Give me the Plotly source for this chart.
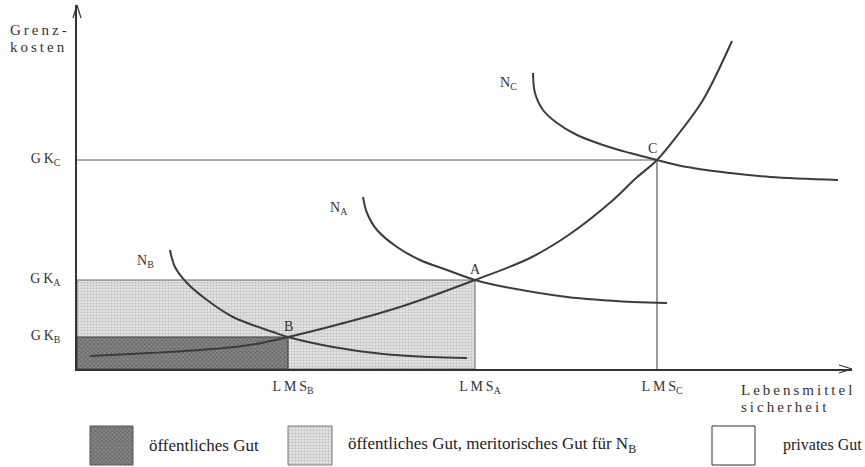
import plotly.graph_objects as go

W, H = 865, 467
FONT = "Liberation Serif"
SP = "\u2009"

# ---------------- data ----------------
point_names = ["B", "A", "C"]
LMS = [21.1, 39.8, 58.0]          # Lebensmittelsicherheit at B, A, C
GK = [3.2, 8.9, 20.9]             # Grenzkosten at B, A, C

gk_x = [1.3, 7.3, 12.3, 17.3, 21.1, 26.3, 32.3, 39.8, 45.3, 49.3, 53.5, 55.8, 58.0, 60.3, 62.6, 65.5]
gk_y = [1.3, 1.6, 1.9, 2.4, 3.2, 4.5, 6.2, 8.9, 11.1, 13.5, 16.8, 19.0, 20.9, 23.7, 26.9, 32.8]

nb_x = [9.3, 9.8, 11.0, 13.0, 15.6, 19.6, 21.1, 25.6, 30.6, 35.3, 39.0]
nb_y = [11.9, 10.2, 8.6, 6.9, 5.2, 3.7, 3.2, 2.2, 1.5, 1.2, 1.1]

na_x = [28.6, 29.0, 30.0, 32.0, 34.3, 37.0, 39.8, 42.3, 49.0, 55.6, 59.0]
na_y = [17.2, 15.6, 13.9, 12.2, 10.9, 9.9, 8.9, 8.3, 7.2, 6.7, 6.6]

nc_x = [45.6, 45.8, 46.6, 48.0, 50.0, 52.6, 55.3, 58.0, 61.0, 65.3, 69.3, 76.1]
nc_y = [29.6, 27.6, 25.9, 24.6, 23.4, 22.4, 21.6, 20.9, 20.2, 19.6, 19.2, 18.9]

curve_labels = ["N<sub>B</sub>", "N<sub>A</sub>", "N<sub>C</sub>"]
y_title = ["Grenz-", "kosten"]
x_title = ["Lebensmittel", "sicherheit"]
legend_labels = ["öffentliches Gut",
                 "öffentliches Gut, meritorisches Gut für N<sub>B</sub>",
                 "privates Gut"]

X_MAX, Y_MAX = 77.5, 36.4


def spaced(s):
    return SP.join(s)


fig = go.Figure()

CURVE = "#3c3c3c"
THIN = "#5a5a5a"
DARK_PAT = dict(shape="x", size=3, solidity=0.5, fgcolor="#3a3a3a", bgcolor="#8e8e8e")
LIGHT_PAT = dict(shape=".", size=3, solidity=0.3, fgcolor="#9a9a9a", bgcolor="#e2e2e2")

# shaded rectangles
iB, iA, iC = 0, 1, 2
fig.add_trace(go.Scatter(
    x=[0, LMS[iA], LMS[iA], 0, 0], y=[0, 0, GK[iA], GK[iA], 0],
    mode="lines", fill="toself", line=dict(color="#6a6a6a", width=1),
    fillcolor="#dcdcdc", fillpattern=LIGHT_PAT,
    hoverinfo="skip", showlegend=False))
fig.add_trace(go.Scatter(
    x=[0, LMS[iB], LMS[iB], 0, 0], y=[0, 0, GK[iB], GK[iB], 0],
    mode="lines", fill="toself", line=dict(color="#444444", width=1.2),
    fillcolor="#8a8a8a", fillpattern=DARK_PAT,
    hoverinfo="skip", showlegend=False))

# GK_C guide lines
fig.add_trace(go.Scatter(x=[0, LMS[iC]], y=[GK[iC], GK[iC]], mode="lines",
                         line=dict(color=THIN, width=1), hoverinfo="skip", showlegend=False))
fig.add_trace(go.Scatter(x=[LMS[iC], LMS[iC]], y=[0, GK[iC]], mode="lines",
                         line=dict(color=THIN, width=1.2), hoverinfo="skip", showlegend=False))

# curves
for cx, cy in [(gk_x, gk_y), (nb_x, nb_y), (na_x, na_y), (nc_x, nc_y)]:
    fig.add_trace(go.Scatter(x=cx, y=cy, mode="lines", line=dict(color=CURVE, width=2, shape="spline", smoothing=1.0),
                             hoverinfo="skip", showlegend=False))

annotations = []
# point labels
shifts = [(0, 11), (0, 11), (-5, 12)]
for name, lx, ly, (dx, dy) in zip(point_names, LMS, GK, shifts):
    annotations.append(dict(x=lx, y=ly, xref="x", yref="y", text=name, showarrow=False,
                            xshift=dx, yshift=dy, font=dict(family=FONT, size=14, color="#333")))
# curve labels
for lab, cx, cy in zip(curve_labels, [nb_x, na_x, nc_x], [nb_y, na_y, nc_y]):
    annotations.append(dict(x=cx[0], y=cy[0], xref="x", yref="y", text=lab, showarrow=False,
                            xshift=-25, yshift=-11, font=dict(family=FONT, size=14, color="#333")))

# axis titles (overlay pixel space)
for line, yy in zip(y_title, [30, 47]):
    annotations.append(dict(x=8, y=yy, xref="x2", yref="y2", xanchor="left", yanchor="middle",
                            text=spaced(line), showarrow=False,
                            font=dict(family=FONT, size=15, color="#333")))
for line, yy in zip(x_title, [390, 407]):
    annotations.append(dict(x=739, y=yy, xref="x2", yref="y2", xanchor="left", yanchor="middle",
                            text=spaced(line), showarrow=False,
                            font=dict(family=FONT, size=15, color="#333")))

# legend (overlay pixel space)
sw = [(90, 133), (288, 332), (712, 755)]
txt_x = [147, 346, 781]
txt_size = [17, 17, 16]
sw_fill = [DARK_PAT, LIGHT_PAT, None]
sw_line = ["#555", "#777", "#333"]
for (x0, x1), fp, lc in zip(sw, sw_fill, sw_line):
    tr = dict(x=[x0, x1, x1, x0, x0], y=[426, 426, 465, 465, 426], xaxis="x2", yaxis="y2",
              mode="lines", fill="toself", line=dict(color=lc, width=1),
              fillcolor="white", hoverinfo="skip", showlegend=False)
    if fp is not None:
        tr["fillpattern"] = fp
    fig.add_trace(go.Scatter(**tr))
for lab, tx, ts in zip(legend_labels, txt_x, txt_size):
    annotations.append(dict(x=tx, y=445, xref="x2", yref="y2", xanchor="left", yanchor="middle",
                            text=lab, showarrow=False, font=dict(family=FONT, size=ts, color="#222")))

# axis arrowheads (overlay pixel space)
fig.add_trace(go.Scatter(x=[73, 77, 81], y=[18, 5, 18], xaxis="x2", yaxis="y2", mode="lines",
                         line=dict(color="#333", width=1.2), hoverinfo="skip", showlegend=False))
fig.add_trace(go.Scatter(x=[839, 852, 839], y=[365, 369, 373], xaxis="x2", yaxis="y2", mode="lines",
                         line=dict(color="#333", width=1.2), hoverinfo="skip", showlegend=False))

tick_font = dict(family=FONT, size=14, color="#333")
fig.update_layout(
    width=W, height=H, autosize=False,
    margin=dict(l=0, r=0, t=0, b=0),
    paper_bgcolor="white", plot_bgcolor="rgba(0,0,0,0)",
    showlegend=False,
    annotations=annotations,
    xaxis=dict(domain=[77 / W, 852 / W], range=[0, X_MAX], showgrid=False, zeroline=False,
               showline=True, linecolor="#333", linewidth=1.6, ticks="",
               tickvals=LMS, ticktext=[spaced("LMS") + "<sub>" + n + "</sub>" for n in point_names],
               tickfont=tick_font, ticklabelstandoff=3, ticklabelshift=5, automargin=False, fixedrange=True),
    yaxis=dict(domain=[1 - 369 / H, 1 - 5 / H], range=[0, Y_MAX], showgrid=False, zeroline=False,
               showline=True, linecolor="#333", linewidth=1.6, ticks="",
               tickvals=GK, ticktext=[spaced("GK") + "<sub>" + n + "</sub>" for n in point_names],
               tickfont=tick_font, ticklabelstandoff=12, ticklabelshift=-2, automargin=False, fixedrange=True),
    xaxis2=dict(domain=[0, 1], range=[0, W], visible=False, fixedrange=True),
    yaxis2=dict(domain=[0, 1], range=[H, 0], visible=False, fixedrange=True, anchor="x2"),
)
fig.update_layout(xaxis2_anchor="y2")

fig.write_html("out.html", config={"displayModeBar": False},
               post_script="document.body.style.margin='0';document.body.style.overflow='hidden';")
